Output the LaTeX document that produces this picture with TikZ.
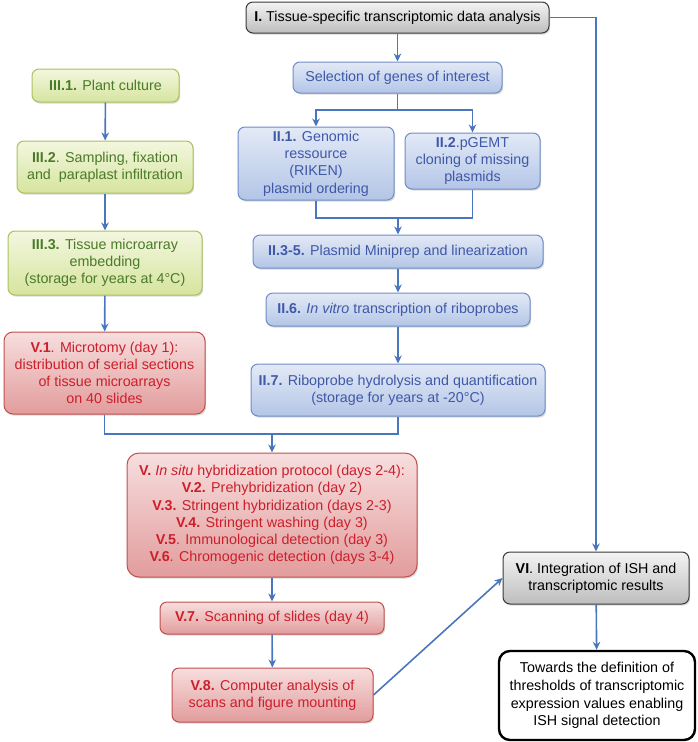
\documentclass[tikz,border=0pt]{standalone}
\usepackage{fontspec}
\setmainfont{Liberation Sans}
\usetikzlibrary{arrows.meta,shadows}
\definecolor{bluetxt}{HTML}{3F58A8}
\definecolor{blueedge}{HTML}{6F8DC8}
\definecolor{bluetop}{HTML}{E3EAF7}
\definecolor{bluebot}{HTML}{B3C5E6}
\definecolor{greentxt}{HTML}{4A7A2A}
\definecolor{greenedge}{HTML}{A9C25E}
\definecolor{greentop}{HTML}{F3F7DF}
\definecolor{greenbot}{HTML}{D6E49E}
\definecolor{redtxt}{HTML}{CC1F2B}
\definecolor{rededge}{HTML}{C0504D}
\definecolor{redtop}{HTML}{F7DEDE}
\definecolor{redbot}{HTML}{E29C9C}
\definecolor{grayedge}{HTML}{3A3A3A}
\definecolor{graytop}{HTML}{F4F4F4}
\definecolor{graybot}{HTML}{BDBDBD}
\definecolor{linecol}{HTML}{4A76BE}
\tikzset{
  box/.style={rounded corners=7pt, align=center, inner sep=2pt, line width=1pt,
    font=\fontsize{14.3}{17.2}\selectfont,
    drop shadow={opacity=0.3,shadow xshift=1.2pt,shadow yshift=-1.6pt}},
  bluebox/.style={box, draw=blueedge, top color=bluetop, bottom color=bluebot, text=bluetxt},
  greenbox/.style={box, draw=greenedge, top color=greentop, bottom color=greenbot, text=greentxt},
  redbox/.style={box, draw=rededge, top color=redtop, bottom color=redbot, text=redtxt},
  graybox/.style={box, draw=grayedge, top color=graytop, bottom color=graybot, text=black},
  finalbox/.style={rounded corners=11pt, align=center, line width=2.4pt, draw=black, fill=white,
    font=\fontsize{14.3}{17.7}\selectfont, text=black},
  conn/.style={draw=linecol, line width=1.6pt},
  arr/.style={conn, -{Stealth[length=8pt,width=7.5pt,inset=2.5pt]}},
}
\begin{document}
\begin{tikzpicture}[x=1pt,y=-1pt]
\useasboundingbox (0,0) rectangle (697,742);

% gray nodes
\node[graybox, minimum width=303pt, minimum height=31pt] (I) at (397.5,17.5)
  {\textbf{I.} Tissue-specific transcriptomic data analysis};
\node[graybox, minimum width=186pt, minimum height=52pt] (VI) at (596,578)
  {\textbf{VI}. Integration of ISH and\\ transcriptomic results};
\node[finalbox, minimum width=196pt, minimum height=89pt] (T) at (597,695.5)
  {Towards the definition of\\ thresholds of transcriptomic\\ expression values enabling\\ ISH signal detection};

% blue nodes
\node[bluebox, minimum width=209pt, minimum height=31pt] (sel) at (397.5,77.5)
  {Selection of genes of interest};
\node[bluebox, minimum width=156pt, minimum height=73pt] (II1) at (316,163.5)
  {\textbf{II.1.} Genomic\\ ressource\\ (RIKEN)\\ plasmid ordering};
\node[bluebox, minimum width=135pt, minimum height=56pt] (II2) at (472.5,161)
  {\textbf{II.2}.pGEMT\\ cloning of missing\\ plasmids};
\node[bluebox, minimum width=290pt, minimum height=33pt] (II35) at (398,251.5)
  {\textbf{II.3-5.} Plasmid Miniprep and linearization};
\node[bluebox, minimum width=264pt, minimum height=33pt] (II6) at (398,309.5)
  {\textbf{II.6.} \textit{In vitro} transcription of riboprobes};
\node[bluebox, minimum width=294pt, minimum height=52pt] (II7) at (398,390)
  {\textbf{II.7.} Riboprobe hydrolysis and quantification\\ (storage for years at -20°C)};

% green nodes
\node[greenbox, minimum width=147pt, minimum height=33pt] (III1) at (105.5,85.5)
  {\textbf{III.1.} Plant culture};
\node[greenbox, minimum width=176pt, minimum height=52pt] (III2) at (105,167)
  {\textbf{III.2}. Sampling, fixation\\ and~ paraplast infiltration};
\node[greenbox, minimum width=194pt, minimum height=64pt] (III3) at (105,263)
  {\textbf{III.3.} Tissue microarray\\ embedding\\ (storage for years at 4°C)};

% red nodes
\node[redbox, rounded corners=9pt, minimum width=201pt, minimum height=82pt] (V1) at (104.5,373)
  {\textbf{V.1}. Microtomy (day 1):\\ distribution of serial sections\\ of tissue microarrays\\ on 40 slides};
\node[redbox, rounded corners=12pt, minimum width=290pt, minimum height=124pt] (V) at (272,515)
  {\textbf{V.} \textit{In situ} hybridization protocol (days 2-4):\\
   \textbf{V.2.} Prehybridization (day 2)\\
   \textbf{V.3.} Stringent hybridization (days 2-3)\\
   \textbf{V.4.} Stringent washing (day 3)\\
   \textbf{V.5}. Immunological detection (day 3)\\
   \textbf{V.6}. Chromogenic detection (days 3-4)};
\node[redbox, minimum width=224pt, minimum height=32pt] (V7) at (272,618)
  {\textbf{V.7.} Scanning of slides (day 4)};
\node[redbox, minimum width=201pt, minimum height=54pt] (V8) at (272.5,695)
  {\textbf{V.8.} Computer analysis of\\ scans and figure mounting};

% junction coordinates
\coordinate (split) at (397.5,110);
\coordinate (join) at (398,218);
\coordinate (merge) at (272,434);

% connectors
\draw[arr] (I) -- (sel);
\draw[arr] (I.east) -| (VI.north);
\draw[conn] (sel.south) -- (split);
\draw[arr] (split) -| (II1.north);
\draw[arr] (split) -| (II2.north);
\draw[conn] (II1.south) |- (join);
\draw[conn] (II2.south) |- (join);
\draw[arr] (join) -- (II35.north);
\draw[arr] (II35) -- (II6);
\draw[arr] (II6) -- (II7);
\draw[arr] (III1) -- (III2);
\draw[arr] (III2) -- (III3);
\draw[arr] (III3) -- (V1);
\draw[conn] (V1.south) |- (merge);
\draw[conn] (II7.south) |- (merge);
\draw[arr] (merge) -- (V.north);
\draw[arr] (V) -- (V7);
\draw[arr] (V7) -- (V8);
\draw[arr] (V8.east) -- (VI.west);
\draw[arr] (VI) -- (T);
\end{tikzpicture}
\end{document}
